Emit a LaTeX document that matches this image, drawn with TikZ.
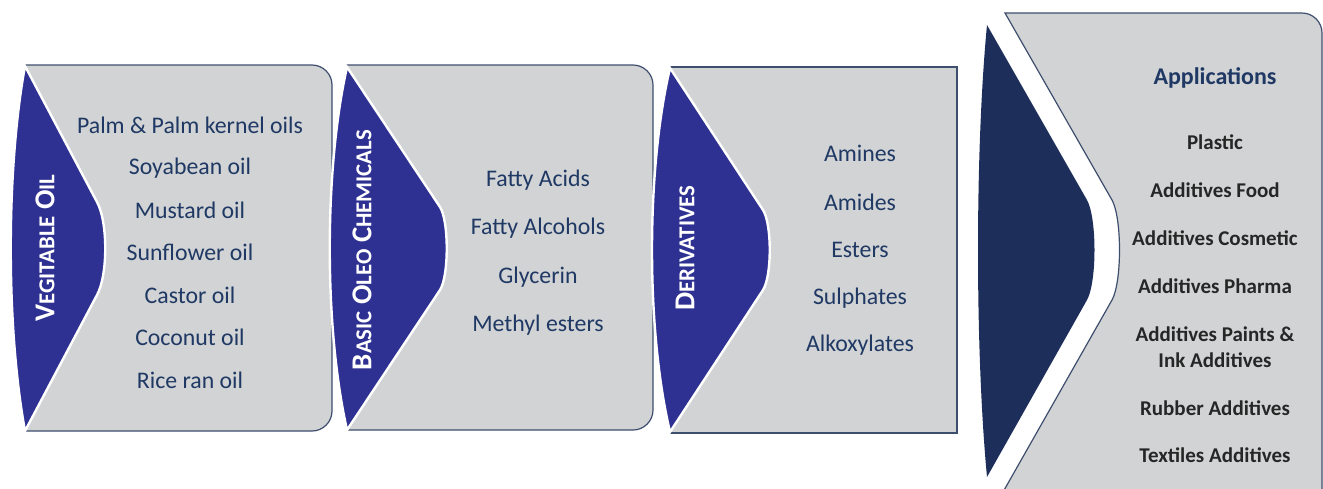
\documentclass[tikz,border=0pt]{standalone}
\usepackage{fontspec}
\setmainfont{Carlito}
\usepackage{tikz}

\definecolor{indaco}{HTML}{2E3192}
\definecolor{blunotte}{HTML}{1C2E59}
\definecolor{grigio}{HTML}{D1D3D4}
\definecolor{testo}{HTML}{1F3864}
\definecolor{bordo}{HTML}{3E4E6E}
\definecolor{scuro}{HTML}{262626}

\newcommand{\pc}[1]{{\fontsize{11.4}{13}\selectfont #1}}

\tikzset{
    pannello/.style={fill=grigio, draw=bordo, line width=0.6pt},
    punta/.style={fill=indaco, draw=white, line width=1.2pt},
    titolo/.style={text=white, rotate=90, inner sep=0pt, font=\bfseries\fontsize{14.4}{16}\selectfont},
    voce/.style={text=testo, inner sep=0pt, font=\fontsize{11.9}{13}\selectfont},
    uso/.style={text=scuro, inner sep=0pt, align=center, font=\bfseries\fontsize{10.5}{13}\selectfont}
}

\begin{document}
\begin{tikzpicture}[x=0.5pt, y=-0.5pt]
        \useasboundingbox (0,0) rectangle (1323,488);

        % Pannelli
        \draw[pannello] (25,65) -- (312,65) .. controls (323,65) and (332,74) .. (332,85) -- (332,411) .. controls (332,422) and (323,431) .. (312,431) -- (25,431) -- cycle;
        \draw[punta] (25,66) .. controls (6,170) and (6,327) .. (25,431) -- (97,295) .. controls (108,275) and (108,222) .. (97,202) -- cycle;

        \draw[pannello] (347,65) -- (633,65) .. controls (644,65) and (653,74) .. (653,85) -- (653,410) .. controls (653,421) and (644,430) .. (633,430) -- (347,430) -- cycle;
        \draw[punta] (347,67) .. controls (324,170) and (324,327) .. (347,430) -- (440,290) .. controls (449,276) and (449,221) .. (440,207) -- cycle;

        \draw[pannello] (670,67) -- (957,67) -- (957,433) -- (670,433) -- cycle;
        \draw[punta] (670,68) .. controls (646,170) and (646,330) .. (670,432) -- (763,290) .. controls (772,276) and (772,224) .. (763,210) -- cycle;

        \draw[pannello] (1005,13) -- (1302,13) .. controls (1313,13) and (1322,22) .. (1322,33) -- (1322,492) -- (1003,492) -- (1112,300) .. controls (1122,282) and (1122,218) .. (1112,200) -- cycle;
        \fill[blunotte] (987,25) .. controls (975,150) and (975,350) .. (987,477) -- (1087,300) .. controls (1097,282) and (1097,218) .. (1087,200) -- cycle;

        % Titoli
        \node[titolo] (oli) at (45,248) {V\pc{EGITABLE} O\pc{IL}};
        \node[titolo] (basici) at (362,250) {B\pc{ASIC} O\pc{LEO} C\pc{HEMICALS}};
        \node[titolo] (derivati) at (685,248) {D\pc{ERIVATIVES}};

        % Oli vegetali
        \node[voce] (palma) at (190,125) {Palm \& Palm kernel oils};
        \node[voce] (soia) at (190,168) {Soyabean oil};
        \node[voce] (senape) at (190,210) {Mustard oil};
        \node[voce] (girasole) at (190,252) {Sunflower oil};
        \node[voce] (ricino) at (190,295) {Castor oil};
        \node[voce] (cocco) at (190,337) {Coconut oil};
        \node[voce] (riso) at (190,380) {Rice ran oil};

        % Oleochimici di base
        \node[voce] (acidi) at (538,180) {Fatty Acids};
        \node[voce] (alcoli) at (538,228) {Fatty Alcohols};
        \node[voce] (glicerina) at (538,277) {Glycerin};
        \node[voce] (esteri) at (538,325) {Methyl esters};

        % Derivati
        \node[voce] (ammine) at (860,153) {Amines};
        \node[voce] (ammidi) at (860,202) {Amides};
        \node[voce] (esterid) at (860,250) {Esters};
        \node[voce] (solfati) at (860,298) {Sulphates};
        \node[voce] (alcossilati) at (860,345) {Alkoxylates};

        % Applicazioni
        \node[voce, font=\bfseries\fontsize{12}{14}\selectfont] (applicazioni) at (1215,78) {Applications};
        \node[uso] (plastica) at (1215,142) {Plastic};
        \node[uso] (cibo) at (1215,190) {Additives Food};
        \node[uso] (cosmetica) at (1215,238) {Additives Cosmetic};
        \node[uso] (farmaci) at (1215,286) {Additives Pharma};
        \node[uso] (vernici) at (1215,347) {Additives Paints \&\\Ink Additives};
        \node[uso] (gomma) at (1215,408) {Rubber Additives};
        \node[uso] (tessili) at (1215,455) {Textiles Additives};

    \end{tikzpicture}
\end{document}
